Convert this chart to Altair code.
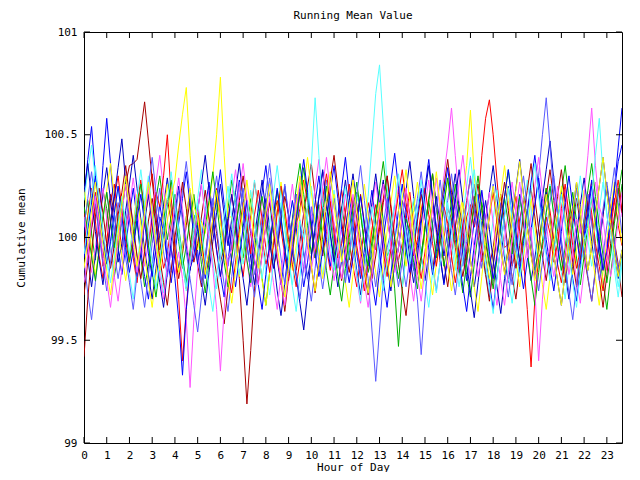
import altair as alt
import pandas as pd

# Running mean values, stored as deviation from 100 in hundredths (value = 100 + d/100),
# one sample every 10 minutes from hour 0 onward.
SAMPLES_PER_HOUR = 6

red_1 = [12, -8, 5, 22, 10, -14, -3, 18, 26, 9, -6, 4, 15,
         -10, -22, -5, 8, 20, 31, 14, -2, -15, -8, 6, 19, 3,
         -12, -25, -9, 7, 16, 2, -18, -11, 5, 24, 13, -4, 9,
         21, 8, -7, -19, -3, 11, 27, 15, 0, -13, -6, 10, 18,
         4, -9, -21, -8, 6, 14, 28, 17, 3, -10, 2, 13, -5,
         -16, -4, 9, 23, 11, -2, -14, -24, -10, 5, 17, 8, -6,
         7, 19, 30, 16, 1, -11, -3, 12, 22, 6, -9, -20, -7,
         8, 15, 3, -12, -1, 14, 9, -5, -17, -6, 10, 16, 5,
         15, 40, 58, 67, 50, 28, 8, -5, -3, -14, -6, 9, 18,
         5, -8, -19, -4, 10, 24, 13, -1, -13, -22, -9, 6, 15,
         2, -11, 4, 17, 27, 12, -3, -16, -7, 8, 19, 6, -4]
darkred_1 = [-28, -12, 4, 16, 3, -10, 8, 21, 12, -5, 14, 26, 35,
             36, 38, 52, 66, 47, 28, 10, -6, 5, 19, 8, -9, -20,
             -8, 6, 18, 4, -13, -24, -10, 7, 15, 2, -12, -5, 9,
             -6, 5, -20, -50, -81, -55, -25, -6, 2, 13, -1, -15, -6,
             8, 20, 11, -4, -16, -2, 12, 25, 36, 20, 5, -9, 3,
             17, 6, -10, -21, -8, 7, 19, 9, -6, -17, -28, -13, 2,
             14, 27, 12, -3, -15, -5, 10, 23, 11, -4, -18, -9, 6,
             18, 31, 15, 0, -12, -24, -9, 5, 16, 4, -11, 2, 15,
             26, 13, -2, -14, -5, 9, 21, 8, -7, -19, -30, -14, 1,
             12, 24, 10, -6, 7, 20, 33, 18, 3, -10, -22, -8, 6,
             19, 7, -9, -20, -31, -16, -1, 11, 25, 14, -2, -13, -29]
green_1 = [6, 18, 2, -11, 9, 23, 14, -4, -19, -8, 12, 27, 11,
           -3, 8, -10, -24, -14, 4, 19, 30, 15, -1, 10, 21, 5,
           -9, -22, -6, 11, 3, -13, -27, -12, 7, 20, 9, -4, 14,
           28, 17, 2, -10, 5, 19, 8, -7, -20, -33, -17, -2, 13,
           25, 10, -5, 9, 24, 36, 21, 6, -8, 3, 16, -1, -16,
           -28, -13, 1, 15, 4, -11, 7, 22, 12, -3, -17, -6, 10,
           23, 8, -9, -5, -25, -53, -25, -5, 5, 18, 6, -8, 4,
           19, 31, 16, 0, -14, -3, 12, 26, 11, -5, -18, -29, -13,
           2, 17, 7, -9, -22, -10, 6, 20, 33, 18, 3, -11, 1,
           14, -2, -16, -5, 11, 24, 9, -6, 8, 22, 35, 19, 5,
           -10, -23, -9, 6, 19, 7, -8, -21, -35, -18, -3, 11, 26]
blue_1 = [20, 38, 54, 30, 8, 35, 58, 36, 12, -6, -18, -5, 11,
          24, 9, -7, -19, -30, -14, 3, 16, 5, -10, -22, -8, 7,
          19, 32, 16, 1, -13, -2, 14, 27, 10, -6, -18, -29, -12,
          4, 15, 28, 13, -3, -17, -6, 9, 22, 35, 18, 2, -11,
          -23, -9, 6, 18, 5, -10, -24, -12, 3, 17, 30, 14, -1,
          -14, -3, 11, 24, 39, 21, 6, -8, -20, -6, 9, 23, 8,
          -7, -21, -34, -18, -2, 13, 26, 12, -3, -16, -4, 10, 24,
          38, 20, 5, -9, -23, -10, 5, 19, 7, -8, -21, -7, 8,
          21, 6, -9, -22, -35, -19, -4, 11, 25, 10, -5, -17, -3,
          12, 27, 40, 23, 7, -7, -19, -6, 9, 22, 8, -7, -20,
          -31, -15, 1, 14, 28, 13, -2, -15, -5, 10, 23, 37, 45]
darkblue_1 = [8, -10, -24, -9, 7, 21, 34, 18, 3, -12, -3, 13, 26,
              40, 24, 9, -6, -18, -30, -15, 1, 15, 29, 13, -2, -15,
              -5, 10, 23, 8, -7, -21, -33, -17, -2, 12, 26, 11, -4,
              9, 22, 36, 19, 4, -10, -23, -8, 6, 19, 5, -10, -26,
              -38, -22, -6, 8, 21, 7, -8, -20, -9, 6, 20, 33, 17,
              2, -11, -24, -11, 4, 18, 31, 16, 0, -14, -27, -13, 2,
              15, 28, 12, -3, -16, -5, 9, 23, 37, 20, 5, -9, -21,
              -8, 7, 20, 6, -9, 4, 18, 31, 15, 0, -13, -26, -39,
              -22, -6, 9, 22, 35, 19, 3, -10, -22, -7, 8, 21, 7,
              -8, -21, -10, 5, 19, 33, 47, 28, 11, -4, -17, -30, -14,
              2, 16, 29, 13, -2, -15, -4, 11, 25, 10, -5, -18, -6]
lightblue_1 = [-12, -27, -40, -22, -6, 9, 22, 8, -7, -20, -8, 7, 20,
               6, -9, -21, -34, -18, -3, 11, 24, 10, -5, -17, -5, 10,
               23, 37, 20, 5, -9, -22, -10, 6, 19, 5, -10, -23, -36,
               -19, -4, 10, 24, 9, -6, -18, -6, 9, 22, 36, 19, 4,
               -10, -23, -9, 7, 21, 8, -7, -19, -31, -15, 1, 15, 28,
               13, -2, -15, -3, 12, 25, 10, -6, -18, -8, -20, -45, -70,
               -45, -20, -5, 3, 16, 3, -12, -24, -10, 5, 19, 32, 16,
               1, -13, -26, -12, 4, 18, 31, 15, 0, -14, -2, 13, 26,
               11, -4, -17, -29, -13, 3, 17, 5, -10, -23, -9, 6, 20,
               9, 2, 15, 30, 50, 68, 45, 20, 12, -3, -16, -5, 10,
               24, 9, -6, -19, -31, -15, 0, 14, 27, 12, -3, -16, -6]
magenta_1 = [10, -4, -17, -5, 11, 24, 9, -6, -19, -31, -15, 1, 15,
             29, 14, -1, -14, -2, 13, 27, 40, 23, 8, -6, -18, -7,
             -20, -40, -73, -40, -15, -6, 10, 23, 8, -7, -20, -9, 6,
             20, 33, 17, 2, -12, -24, -10, 5, 19, 6, -9, -22, -35,
             -18, -2, 12, 26, 11, -4, -17, -5, 10, 24, 38, 21, 6,
             -8, -21, -9, 7, 21, 8, -7, -20, -32, -16, 0, 14, 27,
             12, -3, -16, -4, 11, 25, 10, -5, -18, -31, -15, 1, 15,
             28, 13, 2, 15, 30, 45, 63, 40, 18, 8, -7, -20, -8,
             8, 22, 7, -8, -21, -33, -17, -1, 13, 27, 12, -3, -16,
             -4, 11, 25, 39, 22, 7, -7, -19, -6, 9, 23, 8, -7,
             -20, -32, -16, 0, 14, 27, 12, -3, -16, -4, 11, 25, 10]
cyan_1 = [18, 32, 45, 28, 12, -3, -16, -4, 11, 25, 10, -5, -18,
          -30, -14, 2, 16, 30, 14, -1, -14, -27, -12, 3, 17, 4,
          -11, -24, -10, 5, 19, 33, 17, 2, -12, -25, -11, 4, 18,
          31, 15, 0, -13, -1, 14, 28, 13, -3, -16, -28, -13, 3,
          17, 4, -11, -24, -36, -19, -3, 11, 25, 10, -5, -18, -6,
          9, 23, 8, -7, -20, -8, 7, 21, 12, 4, 20, 45, 70,
          84, 55, 25, 8, 3, -12, -24, -10, 5, 19, 6, -9, -22,
          -34, -17, -1, 13, 27, 12, -3, -16, -4, 11, 25, 39, 22,
          7, -7, -19, -6, 9, 23, 8, -7, -20, -32, -16, 0, 14,
          28, 13, -2, -15, -3, 12, 26, 11, -4, -17, -30, -14, 2,
          16, 30, 14, -1, -14, -2, 13, 27, 12, -3, -16, -29, -13]
yellow_1 = [25, 10, -5, -18, -6, 9, 23, 36, 20, 5, -9, -21, -8,
            7, 21, 6, -9, -22, -34, -18, -2, 12, 26, 11, -4, -17,
            -5, 10, 24, 9, -6, 8, 2, 15, 30, 50, 78, 40, 10,
            10, -6, -19, -7, 8, 22, 7, -8, -21, -33, -17, -1, 13,
            27, 12, -3, -16, -4, 11, 25, 39, 22, 7, -7, -20, -8,
            7, 21, 6, -9, -22, -34, -18, -2, 12, 26, 11, -4, -17,
            -29, -13, 3, 17, 30, 14, -1, -14, -2, 13, 27, 12, -3,
            -16, -28, -13, 2, 16, 29, 14, 0, 10, 20, 35, 62, 30,
            10, 8, -7, -20, -8, 7, 21, 35, 18, 3, -11, -24, -10,
            5, 19, 5, -10, -23, -35, -19, -3, 11, 25, 10, -5, -18,
            -6, 9, 23, 8, -7, -20, -33, -17, -1, 13, 27, 12, -3]
red_2 = [-5, 10, 24, 8, -9, -20, -6, 7, 19, 30, 14, -2, -12,
         3, 16, 28, 12, -4, 9, 22, 15, 30, 50, 20, -5, -30,
         -60, -35, -10, 2, 14, -3, -16, -7, 9, 21, 10, -6, -18,
         -27, -12, 4, 17, 6, -8, 11, 23, 9, -5, -17, -4, 12,
         25, 14, -1, -13, -24, -11, 3, 15, 7, -8, 5, 19, 31,
         18, 2, -10, -3, 12, 26, 13, -4, -15, -26, -12, 4, 16,
         8, -7, -19, -6, 9, 21, 33, 17, 5, -9, -1, 13, 24,
         11, -3, -14, 0, 15, 7, -9, -22, -10, 6, 18, 29, 14,
         1, -12, -4, 10, 22, 8, -6, -17, -5, 9, 20, 3, -10,
         -35, -63, -30, -10, -5, 10, 2, -12, -3, 14, 26, 11, -4,
         -15, -6, 8, 21, 12, -3, -14, -26, -11, 5, 17, 28, 13]
darkred_2 = [-58, -30, -8, 10, 24, 12, -3, -15, -4, 11, 22, 35, 20,
             5, -9, -20, -7, 8, 19, 6, -10, -22, -33, -16, 0, 13,
             27, 14, -1, -12, -3, 10, 23, 9, -6, -18, -30, -42, -25,
             -9, 5, 18, 30, 16, 2, -11, -22, -8, 6, 17, 4, -10,
             -21, -36, -19, -4, 9, 22, 11, -3, -14, -27, -12, 3, 15,
             28, 40, 24, 8, -6, -17, -5, 10, 21, 7, -8, -20, -9,
             4, 17, 30, 14, -1, -13, -26, -38, -20, -5, 8, 21, 10,
             -4, -16, -3, 12, 25, 38, 22, 6, -8, -19, -7, 9, 20,
             7, -6, -18, -31, -14, 1, 14, 27, 13, -2, -15, -4, 11,
             23, 36, 19, 4, -9, -21, -7, 8, 20, 33, 17, 2, -12,
             -24, -10, 5, 18, 8, -7, -20, -34, -18, -3, 10, 24, 12]
green_2 = [15, 3, -9, -21, -6, 10, 22, 8, -5, 7, 19, 4, -12,
           -1, 13, 26, 11, -4, -17, -29, -14, 2, 16, 28, 13, -2,
           -15, -4, 9, 21, 6, -9, 5, 18, 32, 17, 1, -12, -24,
           -10, 4, 17, 3, -11, -22, -9, 8, 20, 7, -6, 9, 23,
           10, -5, -18, -6, 8, 21, 34, 19, 4, -10, -1, 12, 25,
           9, -6, -19, -31, -15, 0, 14, 27, 12, -3, -14, -2, 11,
           24, 37, 20, 6, -8, -20, -7, 9, 3, -12, -25, -11, 4,
           18, 5, -10, 2, 16, 29, 14, -1, -15, -27, -12, 3, 17,
           30, 15, 0, -13, -25, -10, 5, 19, 7, -8, 6, 20, 8,
           -7, -20, -33, -17, -2, 12, 25, 11, -4, -16, -5, 10, 22,
           8, -6, 9, 23, 36, 20, 5, -9, -22, -8, 7, 21, 33]
blue_2 = [-10, 4, 17, 30, 14, -1, -13, -2, 12, 25, 10, -5, -17,
          -6, 9, 21, 7, -8, -19, -5, 10, 3, -12, -5, -20, -40,
          -67, -35, -15, -9, 6, -7, -20, -8, 7, 19, 33, 16, 1,
          -12, -24, -10, 5, 18, 4, -11, -23, -35, -18, -3, 11, 24,
          9, -6, -18, -4, 11, 25, 38, 22, 7, -8, -19, -6, 9,
          22, 35, 19, 4, -10, -22, -9, 7, 20, 6, -9, -21, -33,
          -16, -1, 13, 27, 41, 24, 9, -5, -17, -4, 11, 24, 10,
          -5, -18, -7, 8, 21, 34, 18, 3, -11, -24, -36, -19, -4,
          10, 23, 8, -7, -20, -8, 7, 20, 33, 17, 2, -12, -25,
          -11, 4, 16, 29, 14, -1, -14, -26, -12, 3, 17, 30, 15,
          1, -13, -3, 12, 25, 10, -4, -16, -6, 9, 24, 44, 63]
darkblue_2 = [22, 36, 19, 3, -11, -23, -8, 7, 20, 34, 48, 27, 9,
              -6, -19, -8, 8, 21, 6, -9, -22, -34, -17, -2, 12, 25,
              11, -4, -16, -3, 13, 26, 40, 23, 8, -6, -19, -7, 8,
              21, 7, -8, -20, -33, -16, 0, 14, 28, 13, -2, -15, -4,
              11, 25, 10, -6, -19, -32, -45, -27, -10, 5, 19, 32, 16,
              1, -12, -1, 14, 28, 13, -3, -16, -28, -13, 3, 17, 31,
              16, 1, -13, -26, -11, 4, 18, 5, -10, -22, -9, 7, 21,
              35, 19, 4, -10, -22, -8, 6, 19, 33, 17, 2, -11, -24,
              -11, 5, 18, 4, -11, -24, -37, -20, -4, 10, 24, 38, 21,
              6, -8, -20, -7, 9, 22, 7, -8, -21, -33, -17, -1, 13,
              27, 12, -3, -16, -4, 11, 25, 39, 22, 7, -7, -20, -8]
lightblue_2 = [5, 19, 32, 16, 1, -13, -26, -12, 3, 17, 5, -10, -22,
               -35, -18, -3, 11, 25, 39, 22, 7, -7, -19, -6, 9, 23,
               8, -7, -20, -33, -46, -29, -12, 3, 17, 30, 14, -1, -14,
               -2, 13, 27, 12, -4, -16, -29, -14, 1, 15, 29, 14, -1,
               12, 26, 11, -4, -17, -30, -14, 1, 15, 3, -12, -25, -11,
               5, 19, 6, -9, -22, -8, 7, 21, 35, 18, 3, -11, -24,
               -10, 6, 19, 4, -11, -24, -12, 4, -5, -15, -30, -57, -30,
               -10, 0, 14, 28, 12, -3, -16, -28, -13, 2, 16, 30, 14,
               -1, -15, -3, 12, 26, 11, -4, -17, -29, -14, 2, 16, 30,
               15, 0, -13, -26, -12, 3, 17, 30, 14, -1, -14, -27, -40,
               -23, -7, 8, 21, 7, -8, -21, -9, 6, 20, 34, 17, 2]
magenta_2 = [-22, -8, 7, 20, 6, -9, -21, -34, -17, -2, 12, 26, 11,
             -4, -17, -5, 10, 24, 9, -6, -18, -30, -14, 2, 16, 29,
             14, -1, -14, -2, 13, 26, 10, 0, -15, -35, -65, -35, -10,
             -6, 9, 22, 36, 19, 4, -10, -23, -9, 6, 20, 7, -8,
             -21, -33, -17, -1, 13, 27, 12, -3, -16, -4, 11, 25, 39,
             22, 7, -7, -20, -8, 7, 21, 6, -9, -22, -34, -18, -2,
             12, 26, 11, -4, -17, -5, 10, 24, 9, -6, -19, -31, -15,
             1, 15, 29, 13, -2, -15, -3, 12, 26, 40, 23, 8, -6,
             -19, -7, 8, 22, 7, -8, -21, -33, -17, -1, 13, 27, 12,
             -10, 5, -25, -60, -30, -10, -4, 11, 25, 10, -5, -18, -6,
             9, 2, 20, 40, 63, 35, 15, 9, -6, -19, -7, 8, 22]
cyan_2 = [-8, 7, 21, 35, 19, 4, -10, -22, -9, 6, 20, 7, -8,
          5, 19, 33, 17, 2, -12, -25, -11, 4, 18, 32, 16, 1,
          -13, -26, -12, 3, 17, 4, -11, -24, -36, -19, -3, 11, 25,
          10, -5, -18, -6, 9, 23, 8, -7, -20, -8, 7, 21, 35,
          19, 4, -10, -23, -9, 8, 0, 15, 35, 68, 40, 15, 12,
          -3, -16, -4, 11, 25, 10, -5, -18, -31, -15, 1, 15, 2,
          -13, -26, -12, 3, 17, 31, 15, 0, -13, -1, 14, 28, 13,
          -2, -15, -27, -12, 3, 17, 4, -11, -24, -10, 5, 19, 33,
          17, 2, -12, -25, -37, -20, -4, 10, 24, 9, -6, -19, -7,
          8, 22, 36, 20, 5, -9, -21, -8, 7, 21, 6, -9, -22,
          -34, -17, -1, 5, 20, 40, 58, 30, 10, 3, -11, -24, -10]
yellow_2 = [-15, -2, 13, 27, 12, -3, -16, -28, -13, 2, 16, 30, 14,
            -1, -14, -2, 13, 27, 12, -3, -16, -4, 8, 20, 28, 45,
            60, 73, 40, 15, 10, -5, -18, -6, 9, 23, 8, -7, -20,
            -32, -16, 0, 14, 28, 13, -2, -15, -3, 12, 26, 11, -4,
            -17, -29, -14, 2, 16, 30, 14, -1, -14, -26, -12, 4, 18,
            32, 16, 1, -12, -1, 14, 28, 13, -2, -15, -27, -12, 3,
            17, 4, -11, -24, -10, 5, 19, 33, 17, 2, -12, -25, -11,
            4, 18, 32, 16, 1, -13, -26, -12, 3, 17, 4, -11, -24,
            -36, -19, -3, 11, 25, 10, -5, -18, -6, 9, 23, 37, 20,
            5, -9, -21, -8, 7, 21, 7, -8, -21, -33, -17, -1, 13,
            27, 12, -3, -16, -4, 11, 25, 39, 22, 7, -7, -19, -6]

series_names = ["s00", "s01", "s02", "s03", "s04", "s05", "s06", "s07", "s08",
                "s09", "s10", "s11", "s12", "s13", "s14", "s15", "s16", "s17"]
series_values = [red_1, darkred_1, green_1, blue_1, darkblue_1, lightblue_1,
                 magenta_1, cyan_1, yellow_1,
                 red_2, darkred_2, green_2, blue_2, darkblue_2, lightblue_2,
                 magenta_2, cyan_2, yellow_2]
series_colors = ["#ff0000", "#a80000", "#00b000", "#0000ff", "#0000c0", "#5a5aff",
                 "#ff55ff", "#55ffff", "#ffff00",
                 "#ff0000", "#a80000", "#00b000", "#0000ff", "#0000c0", "#5a5aff",
                 "#ff55ff", "#55ffff", "#ffff00"]

hour_ticks = list(range(24))
mean_ticks = [99, 99.5, 100, 100.5, 101]

rows = []
for name, vals in zip(series_names, series_values):
    for i, d in enumerate(vals):
        rows.append({"hour": i / SAMPLES_PER_HOUR, "mean": 100 + d / 100, "series": name})
df = pd.DataFrame(rows)
x_max = df["hour"].max()

W, H = 538, 411
FONT = "DejaVu Sans Mono"
axis_style = dict(labelFont=FONT, labelFontSize=11, labelColor="black",
                  titleFont=FONT, titleFontSize=11, titleFontWeight="normal",
                  titleColor="black", ticks=False, tickSize=0, domain=False,
                  grid=False, labelOverlap=False)

x_scale = alt.Scale(domain=[0, x_max], nice=False, zero=False)
y_scale = alt.Scale(domain=[99, 101], nice=False, zero=False)
x_axis = alt.Axis(values=hour_ticks, format="d", title="Hour of Day",
                  labelPadding=6, titlePadding=1, labelFlush=False, **axis_style)
y_axis = alt.Axis(values=mean_ticks, format="~g", title="Cumulative mean",
                  labelPadding=7, titlePadding=17, **axis_style)

lines = alt.Chart(df).mark_line(strokeWidth=1, clip=True).encode(
    x=alt.X("hour:Q", scale=x_scale, axis=x_axis),
    y=alt.Y("mean:Q", scale=y_scale, axis=y_axis),
    color=alt.Color("series:N", scale=alt.Scale(domain=series_names, range=series_colors),
                    legend=None),
)

xt = pd.DataFrame({"hour": hour_ticks})
yt = pd.DataFrame({"mean": mean_ticks})

x_bottom = alt.Chart(xt).mark_rule(color="black", strokeWidth=1).encode(
    x=alt.X("hour:Q", scale=x_scale, axis=x_axis), y=alt.value(H), y2=alt.value(H - 6))
x_top = alt.Chart(xt).mark_rule(color="black", strokeWidth=1).encode(
    x=alt.X("hour:Q", scale=x_scale, axis=x_axis), y=alt.value(0), y2=alt.value(6))
y_left = alt.Chart(yt).mark_rule(color="black", strokeWidth=1).encode(
    y=alt.Y("mean:Q", scale=y_scale, axis=y_axis), x=alt.value(0), x2=alt.value(6))
y_right = alt.Chart(yt).mark_rule(color="black", strokeWidth=1).encode(
    y=alt.Y("mean:Q", scale=y_scale, axis=y_axis), x=alt.value(W), x2=alt.value(W - 6))

chart = alt.layer(lines, x_bottom, x_top, y_left, y_right).properties(
    width=W, height=H,
    background="white",
    title=alt.TitleParams("Running Mean Value", font=FONT, fontSize=11,
                          fontWeight="normal", color="black", offset=5),
    autosize=alt.AutoSizeParams(type="none"),
    padding={"left": 76, "top": 24, "right": 10, "bottom": 29},
).configure_view(
    stroke="black", strokeWidth=1
)

chart.save("out.html", embed_options={"renderer": "svg", "actions": False})
